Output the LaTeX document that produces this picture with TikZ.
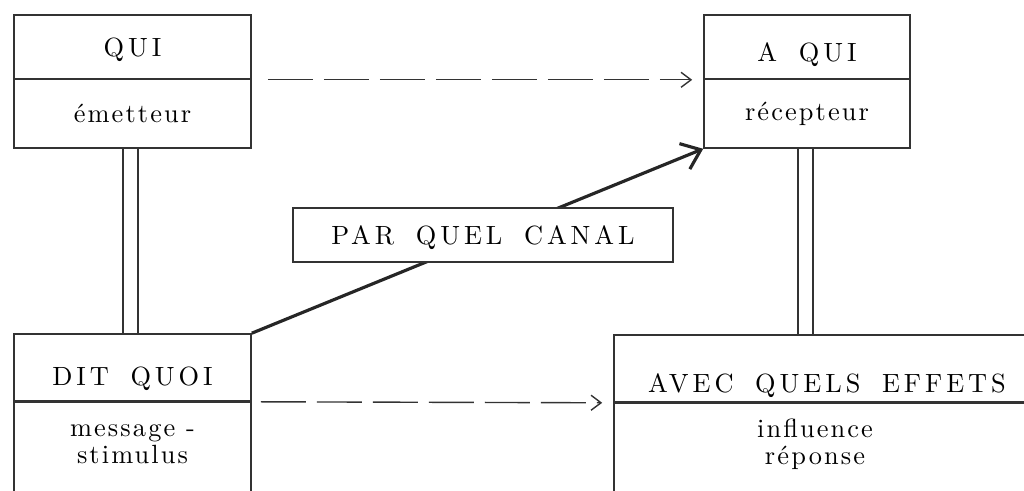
\documentclass[tikz,border=0pt]{standalone}
\usepackage{fontspec}
\setmainfont{lmroman10-regular.otf}
\newfontfamily\capsfont{lmroman10-regular.otf}[LetterSpace=15, WordSpace=1.7]
\newfontfamily\descfont{lmroman10-regular.otf}[LetterSpace=8]
\usepackage{tikz}
\usetikzlibrary{positioning,arrows.meta}

\begin{document}
\begin{tikzpicture}
[
	xscale	= 1,	% to scale horizontally everything but the text
	yscale	= 1,	% to scale vertically everything but the text
	titlebox/.style = {shape = rectangle, draw = black!80, line width = 0.9pt, inner sep = 0pt,
		text height = 0.36cm, text depth = 0pt,
		font = \capsfont\fontsize{15}{17}\selectfont, text = black},
	descbox/.style = {shape = rectangle, draw = black!80, line width = 0.9pt, inner sep = 0pt},
	desctext/.style = {align = center, inner sep = 0pt,
		font = \descfont\fontsize{15}{15.5}\selectfont, text = black},
	link/.style = {draw = black!80, line width = 0.9pt, double, double distance = 0.26cm},
	flow/.style = {draw = black!80, line width = 0.8pt, dash pattern = on 0.9cm off 0.22cm,
		-{Straight Barb[length=0.2cm, width=0.3cm]}},
]

\useasboundingbox (0,0) rectangle (20.48,9.8);
\clip (0,0) rectangle (20.48,9.8);

{
	% nodes declaration
	\node (nQui) [titlebox, minimum width = 4.74cm, minimum height = 1.28cm] at (2.65,8.86) {QUI};
	\node (nQuiDesc) [descbox, desctext, minimum width = 4.74cm, minimum height = 1.38cm] at (2.65,7.53) {émetteur};
	\node (nAQui) [titlebox, text height = 0.56cm, minimum width = 4.12cm, minimum height = 1.28cm] at (16.14,8.86) {A QUI};
	\node (nAQuiDesc) [descbox, desctext, minimum width = 4.12cm, minimum height = 1.38cm] at (16.14,7.53) {récepteur};

	\node (nDitQuoi) [titlebox, text height = 0.7cm, minimum width = 4.74cm, minimum height = 1.34cm] at (2.65,2.45) {DIT QUOI};
	\node (nDitQuoiDesc) [descbox, anchor = north, minimum width = 4.74cm, minimum height = 3cm] at (nDitQuoi.south) {};
	\node (nDitQuoiText) [desctext] at (2.65,0.92) {message -\\stimulus};
	\node (nAvec) [titlebox, text height = 0.96cm, minimum width = 8.52cm, minimum height = 1.34cm] at (16.54,2.43) {AVEC QUELS EFFETS};
	\node (nAvecDesc) [descbox, anchor = north, minimum width = 8.52cm, minimum height = 3cm] at (nAvec.south) {};
	\node (nAvecText) [desctext] at (16.3,0.92) {influence\\réponse};

	% edges declaration
	\draw [link] ([xshift=-0.04cm]nQuiDesc.south) -- ([xshift=-0.04cm]nQuiDesc.south |- nDitQuoi.north);
	\draw [link] ([xshift=-0.03cm]nAQuiDesc.south) -- ([xshift=-0.03cm]nAQuiDesc.south |- nAvec.north);
	\draw [flow] ([xshift=0.32cm]nQui.south east) -- ([xshift=-0.22cm]nAQui.south west);
	\draw [flow] ([xshift=0.18cm]nDitQuoi.south east) -- ([xshift=-0.22cm]nAvec.south west);
	\draw [draw = black!85, line width = 1.8pt, -{Straight Barb[length=0.35cm, width=0.55cm]}]
		(nDitQuoi.north east) -- (nAQuiDesc.south west);

	\node (nCanal) [titlebox, fill = white, minimum width = 7.6cm, minimum height = 1.08cm] at (9.66,5.1) {PAR QUEL CANAL};
}

\end{tikzpicture}
\end{document}
